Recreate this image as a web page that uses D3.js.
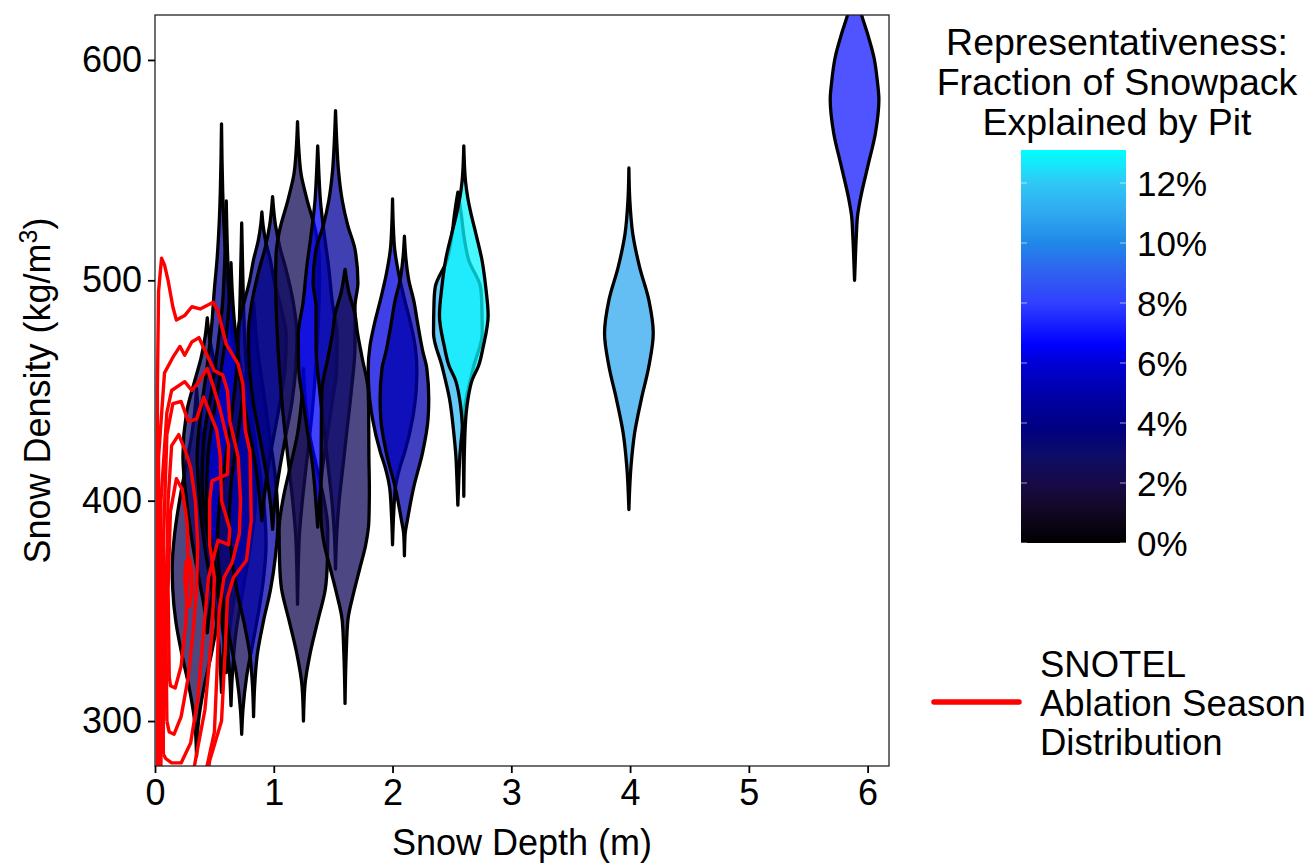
<!DOCTYPE html>
<html>
<head>
<meta charset="utf-8">
<script src="https://cdn.jsdelivr.net/npm/d3@7"></script>
<style>
body { margin: 0; background: #fff; }
text { font-family: "Liberation Sans", Arial, sans-serif; fill: #000; }
</style>
</head>
<body>
<div id="chart"></div>
<script>
// pit depth (m), representativeness (fraction) and density profile [density, relative width]
const pitDepth = [0.35, 0.44, 0.56, 0.60, 0.64, 0.73, 0.83, 0.90, 0.99, 1.20, 1.25, 1.37, 1.52, 1.60, 2.00, 2.10, 2.55, 2.60, 3.99, 5.89];
const pitRep = [0.024, 0.032, 0.043, 0.034, 0.058, 0.025, 0.050, 0.045, 0.038, 0.024, 0.023, 0.066, 0.045, 0.025, 0.062, 0.050, 0.115, 0.129, 0.110, 0.072];
const pitProfile = [
  [[284,0],[300,.08],[315,.3],[330,.6],[345,.85],[360,.98],[370,1],[385,.9],[400,.7],[415,.45],[430,.2],[440,.08],[451,0]],
  [[340,0],[350,.1],[365,.35],[380,.6],[400,.85],[420,1],[440,.85],[455,.5],[465,.25],[475,.08],[483,0]],
  [[313,0],[325,.05],[340,.15],[360,.4],[380,.7],[400,.9],[420,1],[440,.85],[460,.6],[480,.4],[495,.3],[510,.18],[525,.1],[540,.05],[555,.02],[571,0]],
  [[322,0],[335,.08],[350,.25],[370,.55],[390,.85],[410,1],[430,.9],[450,.6],[470,.35],[490,.15],[510,.06],[536,0]],
  [[307,0],[320,.05],[340,.2],[360,.5],[380,.8],[400,1],[420,.95],[440,.7],[460,.4],[480,.15],[495,.05],[508,0]],
  [[294,0],[305,.05],[320,.2],[335,.45],[350,.7],[365,.9],[380,1],[400,.9],[420,.65],[440,.4],[460,.2],[480,.1],[500,.05],[526,0]],
  [[302,0],[315,.04],[330,.15],[345,.4],[360,.7],[375,.9],[390,1],[410,.9],[430,.65],[450,.4],[470,.15],[490,0]],
  [[391,0],[400,.08],[415,.25],[430,.5],[445,.75],[460,.95],[475,1],[487,.8],[500,.5],[509,.35],[518,.15],[525,.05],[531,0]],
  [[387,0],[400,.1],[415,.3],[430,.55],[445,.8],[460,.95],[475,1],[490,.85],[505,.55],[515,.3],[525,.12],[538,0]],
  [[353,0],[370,.03],[385,.08],[400,.2],[420,.4],[440,.6],[460,.75],[480,.85],[500,.9],[512,.88],[522,.75],[537,.38],[548,.15],[560,.05],[572,0]],
  [[300,0],[316,.06],[331,.28],[346,.6],[360,.9],[372,.98],[387,1],[400,.85],[415,.55],[430,.25],[445,.08],[460,0]],
  [[388,0],[400,.08],[415,.2],[430,.4],[445,.6],[460,.78],[475,.8],[490,.6],[506,.45],[520,.28],[535,.12],[548,.05],[561,0]],
  [[369,0],[385,.05],[400,.15],[415,.3],[430,.45],[450,.65],[470,.8],[488,.8],[499,.92],[514,.8],[525,.5],[536,.28],[550,.12],[563,.05],[577,0]],
  [[308,0],[331,.05],[346,.12],[358,.35],[369,.6],[380,.85],[391,.98],[405,1],[420,.98],[440,.97],[450,.95],[465,.7],[477,.5],[484,.42],[495,.15],[505,0]],
  [[380,0],[395,.05],[406,.12],[415,.3],[422,.5],[437,.82],[450,.97],[460,1],[470,.93],[480,.75],[491,.5],[502,.27],[514,.09],[525,.03],[537,0]],
  [[375,0],[385,.03],[391,.12],[406,.38],[422,.75],[437,.97],[446,1],[460,.92],[468,.75],[480,.55],[491,.38],[500,.18],[510,.06],[520,0]],
  [[398,0],[410,.04],[420,.08],[431,.17],[446,.34],[461,.65],[476,1],[490,.98],[497,.93],[509,.45],[520,.25],[529,.15],[536,.06],[540,0]],
  [[402,0],[425,.03],[440,.1],[446,.17],[455,.35],[461,.6],[470,.8],[484,1],[497,.9],[509,.75],[521,.5],[530,.3],[537,.17],[545,.07],[561,0]],
  [[396,0],[416,.09],[431,.24],[446,.51],[461,.82],[476,1],[491,.82],[506,.44],[521,.16],[536,.04],[551,0]],
  [[500,0],[515,.05],[522,.08],[529,.12],[537,.24],[552,.55],[567,.86],[582,1],[590,.94],[601,.8],[612,.53],[620,.3],[628,.12],[636,.02],[640,0]]
];

// SNOTEL ablation season density contours [depth m, density]
const snotelContours = [
  [[0.02,270],[0.02,350],[0.02,450],[0.03,495],[0.055,510],[0.08,507],[0.11,500],[0.15,488],[0.18,482],[0.25,484],[0.31,488],[0.38,487],[0.49,490],[0.53,486],[0.60,471],[0.70,462],[0.74,453],[0.76,432],[0.80,422],[0.81,391],[0.77,373],[0.66,365],[0.61,356],[0.59,331],[0.56,300],[0.46,282],[0.43,270]],
  [[0.03,270],[0.03,420],[0.08,458],[0.15,465],[0.21,470],[0.25,466],[0.31,472],[0.37,474],[0.43,467],[0.50,459],[0.57,457],[0.61,450],[0.63,436],[0.70,420],[0.72,400],[0.71,385],[0.65,372],[0.58,365],[0.54,350],[0.52,320],[0.50,295],[0.44,280],[0.38,270]],
  [[0.05,270],[0.05,400],[0.10,440],[0.14,450],[0.25,454],[0.31,450],[0.37,454],[0.44,460],[0.49,452],[0.55,441],[0.62,425],[0.61,412],[0.48,409],[0.46,400],[0.46,380],[0.50,365],[0.48,340],[0.42,305],[0.35,285],[0.30,270]],
  [[0.07,285],[0.07,380],[0.10,430],[0.15,444],[0.22,445],[0.28,436],[0.35,437],[0.41,447],[0.46,440],[0.52,432],[0.55,420],[0.56,400],[0.63,387],[0.62,380],[0.53,382],[0.45,365],[0.40,335],[0.36,310],[0.30,290],[0.22,281],[0.14,281],[0.09,283],[0.07,285]],
  [[0.10,300],[0.09,350],[0.11,400],[0.14,425],[0.20,430],[0.26,422],[0.30,415],[0.34,400],[0.36,380],[0.35,360],[0.32,340],[0.28,320],[0.22,302],[0.16,294],[0.12,295],[0.10,300]],
  [[0.12,320],[0.11,360],[0.13,395],[0.18,410],[0.23,405],[0.27,390],[0.28,370],[0.26,345],[0.22,325],[0.17,315],[0.13,316],[0.12,320]],
  [[0.26,358],[0.25,365],[0.26,372],[0.29,374],[0.31,368],[0.31,358],[0.29,352],[0.27,353],[0.26,358]]
];

const xTicks = [0, 1, 2, 3, 4, 5, 6];
const yTicks = [300, 400, 500, 600];
const repTicks = [0, 0.02, 0.04, 0.06, 0.08, 0.10, 0.12];
const repStops = [0, 0.012, 0.02, 0.03, 0.038, 0.047, 0.055, 0.062, 0.066, 0.08, 0.09, 0.10, 0.11, 0.12, 0.131];
const repColors = ["#000000","#140828","#180a48","#0c0c6a","#000080","#0000a0","#0000c0","#0000e0","#0000ff","#3040ff","#3060f0","#2088e8","#30a8f0","#30c8f5","#00ffff"];
const legendTitle = ["Representativeness:", "Fraction of Snowpack", "Explained by Pit"];
const snotelLabel = ["SNOTEL", "Ablation Season", "Distribution"];

const width = 1310, height = 866;
const pl = 155, pr = 889, pt = 15, pb = 766;
const violinHalf = 0.205;

const svg = d3.select("#chart").append("svg")
  .attr("width", width).attr("height", height);

const x = d3.scaleLinear().domain([0, 6.18]).range([pl, pr]);
const y = d3.scaleLinear().domain([279.6, 620.4]).range([pb, pt]);
const color = d3.scaleLinear().domain(repStops).range(repColors).interpolate(d3.interpolateRgb);

svg.append("clipPath").attr("id", "clip")
  .append("rect").attr("x", pl).attr("y", pt).attr("width", pr - pl).attr("height", pb - pt);

const plot = svg.append("g").attr("clip-path", "url(#clip)");

// violins
const area = d3.area()
  .y(d => y(d[0]))
  .curve(d3.curveMonotoneY);

pitDepth.forEach((dep, i) => {
  area.x0(d => x(dep - violinHalf * d[1])).x1(d => x(dep + violinHalf * d[1]));
  plot.append("path")
    .attr("d", area(pitProfile[i]))
    .attr("fill", color(pitRep[i]))
    .attr("fill-opacity", 0.75)
    .attr("stroke", "#000")
    .attr("stroke-width", 3.3)
    .attr("stroke-linejoin", "round");
});

// SNOTEL contours
const line = d3.line().x(d => x(d[0])).y(d => y(d[1]));
plot.selectAll(".contour")
  .data(snotelContours)
  .enter().append("path")
  .attr("class", "contour")
  .attr("d", line)
  .attr("fill", "none")
  .attr("stroke", "#ff0000")
  .attr("stroke-width", 3.4)
  .attr("stroke-linejoin", "round");

// panel border
svg.append("rect")
  .attr("x", pl).attr("y", pt).attr("width", pr - pl).attr("height", pb - pt)
  .attr("fill", "none").attr("stroke", "#222").attr("stroke-width", 1.3);

// axes
const xAxis = svg.append("g")
  .attr("transform", "translate(0," + pb + ")")
  .call(d3.axisBottom(x).tickValues(xTicks).tickSize(7).tickPadding(6).tickFormat(d3.format("d")));
const yAxis = svg.append("g")
  .attr("transform", "translate(" + pl + ",0)")
  .call(d3.axisLeft(y).tickValues(yTicks).tickSize(7).tickPadding(6).tickFormat(d3.format("d")));
[xAxis, yAxis].forEach(a => {
  a.select(".domain").remove();
  a.selectAll(".tick line").attr("stroke", "#000").attr("stroke-width", 1.8);
  a.selectAll(".tick text").attr("font-size", 36).attr("fill", "#000")
    .style("font-family", "'Liberation Sans', Arial, sans-serif");
});

svg.append("text")
  .attr("x", (pl + pr) / 2).attr("y", 855)
  .attr("text-anchor", "middle").attr("font-size", 36)
  .text("Snow Depth (m)");

const yt = svg.append("text")
  .attr("transform", "translate(50," + ((pt + pb) / 2) + ") rotate(-90)")
  .attr("text-anchor", "middle").attr("font-size", 36);
yt.append("tspan").text("Snow Density (kg/m");
yt.append("tspan").attr("dy", -13).attr("font-size", 25).text("3");
yt.append("tspan").attr("dy", 13).text(")");

// colour legend
const lx = 1021, lw = 105, ltop = 150, lbot = 543;
const legendY = d3.scaleLinear().domain([0, 0.131]).range([lbot, ltop]);

legendTitle.forEach((t, i) => {
  svg.append("text")
    .attr("x", 1117).attr("y", 55 + i * 40)
    .attr("text-anchor", "middle").attr("font-size", 37.5)
    .text(t);
});

const grad = svg.append("defs").append("linearGradient")
  .attr("id", "repGrad").attr("x1", 0).attr("x2", 0).attr("y1", 1).attr("y2", 0);
repStops.forEach((s, i) => {
  grad.append("stop").attr("offset", s / 0.131).attr("stop-color", repColors[i]);
});
svg.append("rect")
  .attr("x", lx).attr("y", ltop).attr("width", lw).attr("height", lbot - ltop)
  .attr("fill", "url(#repGrad)");

repTicks.forEach(v => {
  const ty = legendY(v);
  svg.append("line").attr("x1", lx).attr("x2", lx + 6).attr("y1", ty).attr("y2", ty)
    .attr("stroke", "#fff").attr("stroke-opacity", 0.6).attr("stroke-width", 1);
  svg.append("line").attr("x1", lx + lw - 6).attr("x2", lx + lw).attr("y1", ty).attr("y2", ty)
    .attr("stroke", "#fff").attr("stroke-opacity", 0.6).attr("stroke-width", 1);
  svg.append("text")
    .attr("x", 1137).attr("y", ty).attr("dy", "0.36em")
    .attr("font-size", 35)
    .text(d3.format(".0%")(v));
});

// SNOTEL legend
svg.append("line")
  .attr("x1", 934).attr("x2", 1019).attr("y1", 702).attr("y2", 702)
  .attr("stroke", "#ff0000").attr("stroke-width", 5.5).attr("stroke-linecap", "round");
snotelLabel.forEach((t, i) => {
  svg.append("text")
    .attr("x", 1040).attr("y", 677 + i * 39)
    .attr("font-size", 36.5)
    .text(t);
});
</script>
</body>
</html>
